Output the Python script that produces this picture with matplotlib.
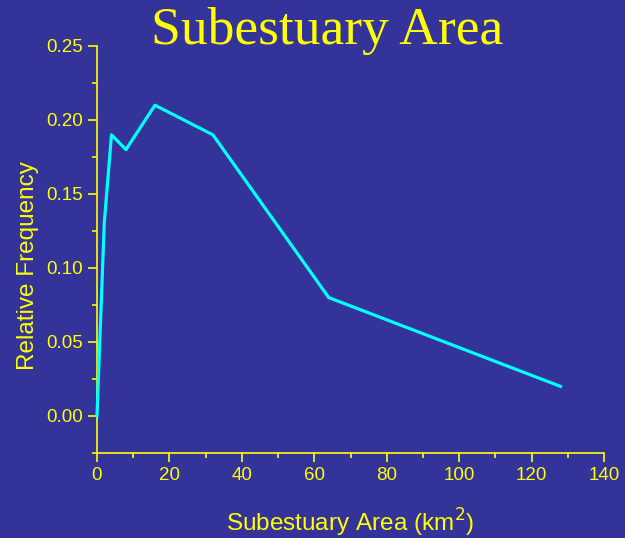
import matplotlib
matplotlib.use("Agg")
import matplotlib.pyplot as plt
from matplotlib.ticker import MultipleLocator, FormatStrFormatter

# subestuary area (km^2) and relative frequency
area = [0, 2, 4, 8, 16, 32, 64, 128]
rel_freq = [0.0, 0.13, 0.19, 0.18, 0.21, 0.19, 0.08, 0.02]

BG = "#333399"
YELLOW = "#ffff00"
CYAN = "#00ffff"

fig = plt.figure(figsize=(6.25, 5.38), dpi=100, facecolor=BG)
ax = fig.add_axes([0.1552, 0.158, 0.8112, 0.7565], facecolor=BG)

ax.plot(area, rel_freq, color=CYAN, lw=2.3, clip_on=False, zorder=3)

ax.set_xlim(0, 140)
ax.set_ylim(-0.025, 0.25)
ax.xaxis.set_major_locator(MultipleLocator(20))
ax.xaxis.set_minor_locator(MultipleLocator(10))
ax.yaxis.set_major_locator(MultipleLocator(0.05))
ax.yaxis.set_minor_locator(MultipleLocator(0.025))
ax.yaxis.set_major_formatter(FormatStrFormatter("%.2f"))

for side in ("top", "right"):
    ax.spines[side].set_visible(False)
for side in ("left", "bottom"):
    ax.spines[side].set_color(YELLOW)
    ax.spines[side].set_linewidth(1.2)

ax.tick_params(which="both", colors=YELLOW, direction="out", width=1.2)
ax.tick_params(which="major", length=6.2, labelsize=13.5, pad=4)
ax.tick_params(which="minor", length=3.6)
for lab in ax.get_xticklabels() + ax.get_yticklabels():
    lab.set_fontfamily("Liberation Sans")

ax.set_xlabel("Subestuary Area (km$^{2}$)", color=YELLOW, fontsize=17.5,
              fontfamily="Liberation Sans", labelpad=16)
ax.set_ylabel("Relative Frequency", color=YELLOW, fontsize=17.5,
              fontfamily="Liberation Sans", labelpad=7)
ax.yaxis.set_label_coords(-0.115, 0.46)

fig.text(0.523, 0.918, "Subestuary Area", color=YELLOW, fontsize=38.5,
         fontfamily="Liberation Serif", ha="center", va="baseline")

fig.savefig("out.png", dpi=100, facecolor=BG)
